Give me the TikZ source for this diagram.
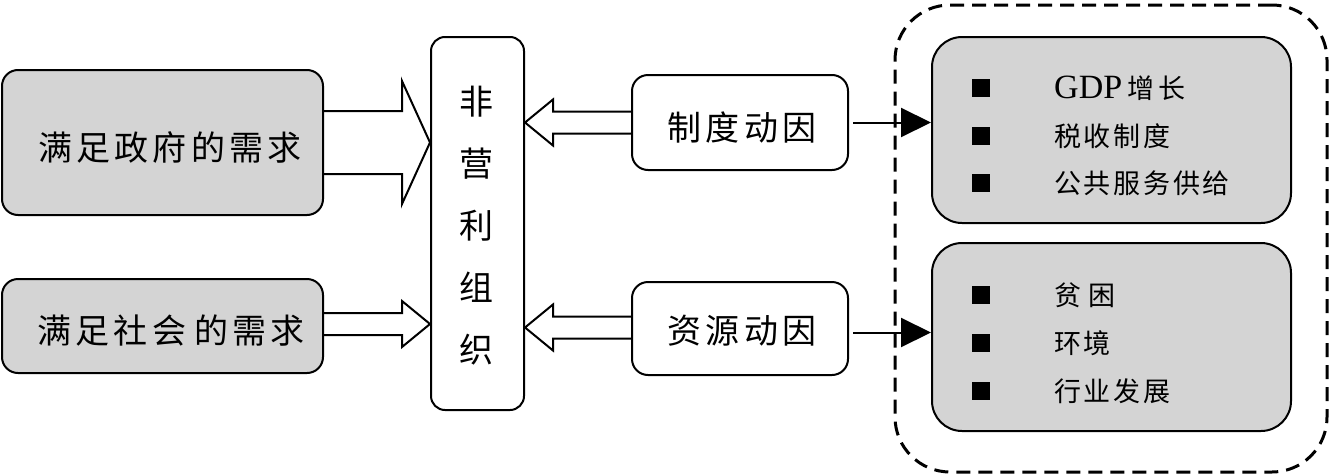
\documentclass[tikz,border=0pt]{standalone}
\usepackage{fontspec}
\setmainfont{Noto Sans CJK SC}
\newfontfamily\cjkbig[LetterSpace=12]{Noto Sans CJK SC}
\newfontfamily\cjksmall[LetterSpace=10]{Noto Sans CJK SC}
\newfontfamily\serifen{Liberation Serif}
\usetikzlibrary{arrows.meta,calc}
\definecolor{boxgray}{RGB}{212,212,212}
\begin{document}
\begin{tikzpicture}[x=1pt,y=-1pt,
  box/.style={draw,line width=2pt,rounded corners=16pt,inner sep=0pt,anchor=center},
  graybox/.style={box,fill=boxgray},
  hollow/.style={draw,line width=2pt,line join=miter},
  bigtxt/.style={font=\fontsize{34}{40}\cjkbig,inner sep=0pt},
  listtxt/.style={font=\fontsize{27}{30}\cjksmall,inner sep=0pt,anchor=west},
  bulletsq/.style={fill=black,minimum size=18pt,inner sep=0pt},
  link/.style={line width=2pt,shorten <=4pt,-{Triangle[length=30pt,width=29pt]}},
  dashbox/.style={draw,line width=3pt,dash pattern=on 14pt off 8pt,rounded corners=55pt,inner sep=0pt}
]
\useasboundingbox (0,0) rectangle (1329,474);

% left boxes
\node[graybox,minimum width=321pt,minimum height=145pt] (L1) at (162.5,142.5) {};
\node[bigtxt] (t1) at (170,147) {满足政府的需求};
\node[graybox,minimum width=321pt,minimum height=94pt] (L2) at (162.5,326) {};
\node[bigtxt] (t2) at (171,331) {满足社会\hspace{8pt}的需求};

% central box
\node[box,rounded corners=14pt,minimum width=93pt,minimum height=373pt] (N) at (477.5,223.5) {};
\node[font=\fontsize{34}{62}\selectfont,align=center,inner sep=0pt] (Nt) at (476,226) {非\\营\\利\\组\\织};

% middle boxes
\node[box,minimum width=216pt,minimum height=95pt] (M1) at (740,122.5) {};
\node[bigtxt] (m1t) at (742,127) {制度动因};
\node[box,minimum width=216pt,minimum height=93pt] (M2) at (740,328.5) {};
\node[bigtxt] (m2t) at (742,331) {资源动因};

% dashed container
\node[dashbox,minimum width=432pt,minimum height=467pt] (D) at (1111,238.5) {};

% right boxes
\node[graybox,rounded corners=30pt,minimum width=359pt,minimum height=186pt] (R1) at (1111.5,130) {};
\node[graybox,rounded corners=30pt,minimum width=359pt,minimum height=188pt] (R2) at (1111.5,337) {};

\node[bulletsq] (b1) at (981,88) {};
\node[bulletsq] (b2) at (981,136) {};
\node[bulletsq] (b3) at (981,183) {};
\node[bulletsq] (b4) at (981,295) {};
\node[bulletsq] (b5) at (981,343) {};
\node[bulletsq] (b6) at (981,391) {};

\node[listtxt] (r1) at (1054,88) {{\fontsize{34}{36}\serifen GDP}\hspace{5pt}增\hspace{4pt}长};
\node[listtxt] (r2) at (1054,136) {税收制度};
\node[listtxt] (r3) at (1054,183) {公共服务供给};
\node[listtxt] (r4) at (1054,295) {贫\hspace{7pt}困};
\node[listtxt] (r5) at (1054,343) {环境};
\node[listtxt] (r6) at (1054,391) {行业发展};

% hollow arrows into N
\coordinate (a1) at (N.west |- L1.east);
\draw[hollow] ($(L1.east)+(0,-31.5)$) -- ($(a1)+(-28,-31.5)$) -- ($(a1)+(-28,-61.5)$) -- (a1)
  -- ($(a1)+(-28,61.5)$) -- ($(a1)+(-28,31.5)$) -- ($(L1.east)+(0,31.5)$);
\coordinate (a2) at ($(N.west |- L2.east)+(0,-2)$);
\draw[hollow] ($(L2.east)+(0,-13)$) -- ($(a2)+(-28,-11)$) -- ($(a2)+(-28,-23)$) -- (a2)
  -- ($(a2)+(-28,23)$) -- ($(a2)+(-28,11)$) -- ($(L2.east)+(0,9)$);
\coordinate (a3) at (N.east |- M1.west);
\draw[hollow] ($(M1.west)+(0,-11)$) -- ($(a3)+(28,-11)$) -- ($(a3)+(28,-23)$) -- (a3)
  -- ($(a3)+(28,23)$) -- ($(a3)+(28,11)$) -- ($(M1.west)+(0,11)$);
\coordinate (a4) at ($(N.east |- M2.west)+(0,-1)$);
\draw[hollow] ($(M2.west)+(0,-12)$) -- ($(a4)+(28,-11)$) -- ($(a4)+(28,-23)$) -- (a4)
  -- ($(a4)+(28,23)$) -- ($(a4)+(28,11)$) -- ($(M2.west)+(0,10)$);

% links to right boxes
\draw[link] (M1.east) -- (M1.east -| R1.west);
\draw[link] ($(M2.east)+(0,4)$) -- ($(M2.east -| R2.west)+(0,4)$);
\end{tikzpicture}
\end{document}
